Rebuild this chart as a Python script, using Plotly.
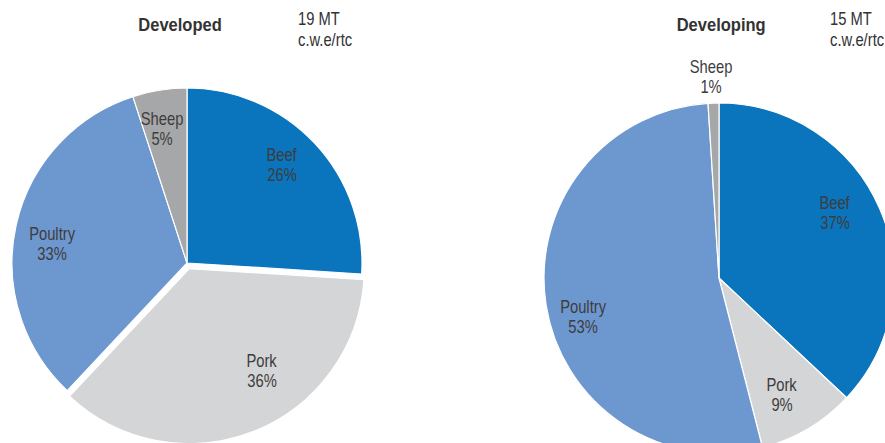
import json
import math
import plotly.graph_objects as go

# Meat consumption shares by type, two country groups
categories = ["Beef", "Pork", "Poultry", "Sheep"]
developed_share = [26, 36, 33, 5]
developing_share = [37, 9, 53, 1]
developed_total = "19 MT"
developing_total = "15 MT"
unit_label = "c.w.e/rtc"

colors = {"Beef": "#0a74bc", "Pork": "#d4d5d7", "Poultry": "#6d97cf", "Sheep": "#a6a7a9"}
text_color = "#3d3d3d"
font_family = "Liberation Sans, Arial, sans-serif"

W, H = 900, 460

# pie geometry in pixels: centre, radius, pulled-out slice
panels = [
    dict(name="Developed", values=developed_share, total=developed_total,
         cx=187, cy=263, r=175, pull={"Pork": 0.035},
         title_x=180, total_x=296,
         # label placement: (angle clockwise from 12 o'clock, radius fraction)
         label_pos={"Beef": (44, 0.78), "Pork": (145, 0.75),
                    "Poultry": (278, 0.78), "Sheep": (349.5, 0.78)}),
    dict(name="Developing", values=developing_share, total=developing_total,
         cx=719, cy=278, r=175, pull={},
         title_x=721, total_x=828,
         label_pos={"Beef": (60.7, 0.76), "Pork": (151.7, 0.76),
                    "Poultry": (254.2, 0.81), "Sheep": (357.7, 1.147)}),
]

NARROW = 0.82        # horizontal squeeze giving a condensed look to the text
NARROW_BOLD = 0.87


def px_x(x):
    return x / W


def px_y(y):
    return 1 - y / H


fig = go.Figure()
annotations = []
squeeze = []  # (scale, transform origin) per annotation

for p in panels:
    pulls = [p["pull"].get(c, 0) for c in categories]
    half = p["r"] * (1 + max(pulls))
    fig.add_trace(go.Pie(
        labels=categories,
        values=p["values"],
        sort=False,
        direction="clockwise",
        rotation=0,
        pull=pulls,
        marker=dict(colors=[colors[c] for c in categories],
                    line=dict(color="white", width=1.2)),
        textinfo="none",
        hoverinfo="label+percent",
        showlegend=False,
        domain=dict(x=[px_x(p["cx"] - half), px_x(p["cx"] + half)],
                    y=[px_y(p["cy"] + half), px_y(p["cy"] - half)]),
    ))

    # slice labels, two lines each
    for cat, val in zip(categories, p["values"]):
        ang, frac = p["label_pos"][cat]
        a = math.radians(ang)
        lx = p["cx"] + frac * p["r"] * math.sin(a)
        ly = p["cy"] - frac * p["r"] * math.cos(a)
        for dy, txt in ((-10, cat), (10, f"{val}%")):
            annotations.append(dict(
                x=px_x(lx), y=px_y(ly + dy), xref="paper", yref="paper",
                text=txt, showarrow=False, xanchor="center", yanchor="middle",
                font=dict(size=18, color=text_color, family=font_family)))
            squeeze.append([NARROW, "center"])

    # panel title and total
    annotations.append(dict(
        x=px_x(p["title_x"]), y=px_y(24), xref="paper", yref="paper",
        text=f"<b>{p['name']}</b>", showarrow=False,
        xanchor="center", yanchor="middle",
        font=dict(size=19, color="#333333", family=font_family)))
    squeeze.append([NARROW_BOLD, "center"])
    for y, txt in ((19, p["total"]), (39.5, unit_label)):
        annotations.append(dict(
            x=px_x(p["total_x"]), y=px_y(y), xref="paper", yref="paper",
            text=txt, showarrow=False, xanchor="left", yanchor="middle",
            font=dict(size=18, color="#333333", family=font_family)))
        squeeze.append([NARROW, "left"])

fig.update_layout(
    width=W, height=H,
    margin=dict(l=0, r=0, t=0, b=0),
    paper_bgcolor="white",
    plot_bgcolor="white",
    annotations=annotations,
)

post_js = """
document.body.style.margin='0';
document.body.style.overflow='hidden';
document.documentElement.style.overflow='hidden';
var sq = %s;
var gd = document.getElementById('{plot_id}');
gd.querySelectorAll('g.annotation').forEach(function(g) {
  var i = parseInt(g.getAttribute('data-index'));
  var t = g.querySelector('text.annotation-text');
  if (!t || !sq[i]) return;
  t.style.transformBox = 'fill-box';
  t.style.transformOrigin = sq[i][1] + ' center';
  t.style.transform = 'scaleX(' + sq[i][0] + ')';
});
""" % json.dumps(squeeze)

fig.write_html("out.html", post_script=post_js)
